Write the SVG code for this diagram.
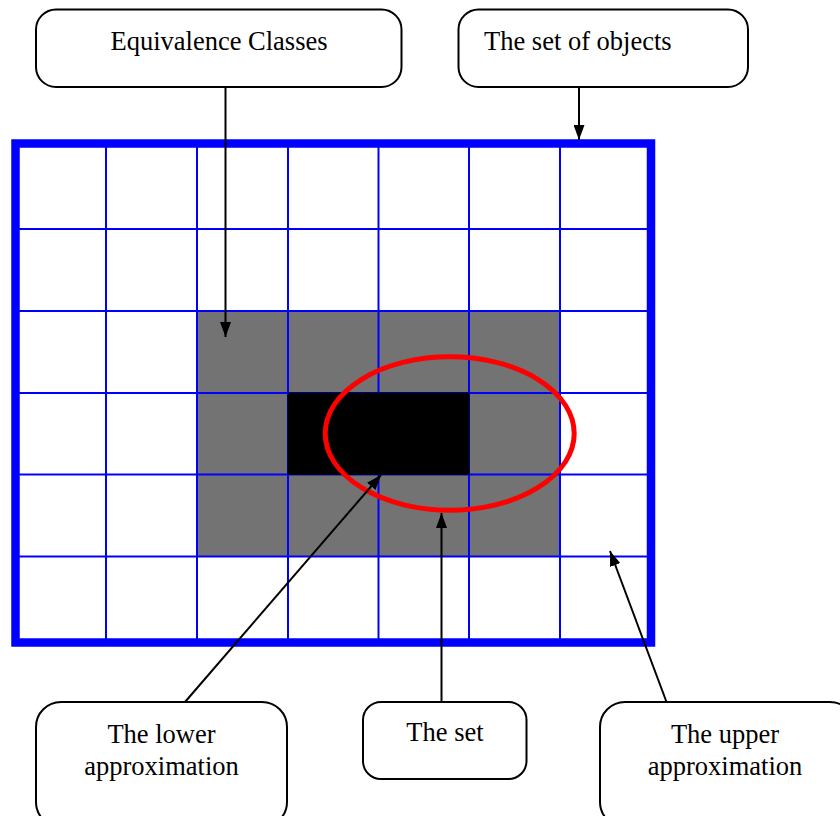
<svg xmlns="http://www.w3.org/2000/svg" width="840" height="816" viewBox="0 0 840 816">
  <style>
    .box { fill: #ffffff; stroke: #000000; stroke-width: 2; }
    .lbl { font-family: "Liberation Serif", "Times New Roman", serif; font-size: 26.5px; fill: #000000; }
    .grid { stroke: #0000ff; stroke-width: 2; fill: none; }
    .conn { stroke: #000000; stroke-width: 2; fill: none; marker-end: url(#arrow); }
  </style>
  <defs>
    <marker id="arrow" markerUnits="userSpaceOnUse" markerWidth="15" markerHeight="11" refX="15" refY="5.5" orient="auto">
      <path d="M0,0 L15,5.5 L0,11 z" fill="#000000"/>
    </marker>
  </defs>
  <rect width="840" height="816" fill="#ffffff"/>

  <g id="grid">
    <rect x="197" y="311" width="363" height="245.5" fill="#737373"/>
    <g class="grid">
      <line x1="106" y1="143.5" x2="106" y2="642.5"/>
      <line x1="197" y1="143.5" x2="197" y2="642.5"/>
      <line x1="288" y1="143.5" x2="288" y2="642.5"/>
      <line x1="378.5" y1="143.5" x2="378.5" y2="642.5"/>
      <line x1="469" y1="143.5" x2="469" y2="642.5"/>
      <line x1="560" y1="143.5" x2="560" y2="642.5"/>
      <line x1="15.5" y1="229" x2="651" y2="229"/>
      <line x1="15.5" y1="311" x2="651" y2="311"/>
      <line x1="15.5" y1="393" x2="651" y2="393"/>
      <line x1="15.5" y1="474.5" x2="651" y2="474.5"/>
      <line x1="15.5" y1="556.5" x2="651" y2="556.5"/>
    </g>
    <rect x="287.5" y="392.5" width="182" height="82.5" fill="#000000"/>
    <rect x="15.5" y="143.5" width="635.5" height="499" fill="none" stroke="#0000ff" stroke-width="8.5"/>
    <ellipse cx="449.7" cy="433.5" rx="124.5" ry="76.7" fill="none" stroke="#ff0000" stroke-width="5"/>
  </g>

  <g id="equivalence-classes">
    <rect class="box" x="36" y="9.5" width="365.5" height="77.5" rx="20" ry="20"/>
    <text class="lbl" x="219" y="50" text-anchor="middle">Equivalence Classes</text>
  </g>
  <g id="set-of-objects">
    <rect class="box" x="458.5" y="9.5" width="289.5" height="77.5" rx="20" ry="20"/>
    <text class="lbl" x="484" y="50">The set of objects</text>
  </g>
  <g id="lower-approximation">
    <rect class="box" x="36" y="702" width="251" height="125" rx="25" ry="25"/>
    <text class="lbl" x="161.5" y="743" text-anchor="middle">The lower</text>
    <text class="lbl" x="161.5" y="775" text-anchor="middle">approximation</text>
  </g>
  <g id="the-set">
    <rect class="box" x="363" y="702" width="163.5" height="77" rx="18" ry="18"/>
    <text class="lbl" x="445" y="741" text-anchor="middle">The set</text>
  </g>
  <g id="upper-approximation">
    <rect class="box" x="600" y="702" width="255" height="125" rx="25" ry="25"/>
    <text class="lbl" x="725" y="743" text-anchor="middle">The upper</text>
    <text class="lbl" x="725" y="775" text-anchor="middle">approximation</text>
  </g>

  <g id="connectors">
    <line class="conn" x1="225.5" y1="87" x2="225.5" y2="337"/>
    <line class="conn" x1="579" y1="87" x2="579" y2="140"/>
    <line class="conn" x1="185" y1="702" x2="381" y2="475"/>
    <line class="conn" x1="441.5" y1="702" x2="441.5" y2="513"/>
    <line class="conn" x1="666.5" y1="702" x2="610" y2="551"/>
  </g>
</svg>
